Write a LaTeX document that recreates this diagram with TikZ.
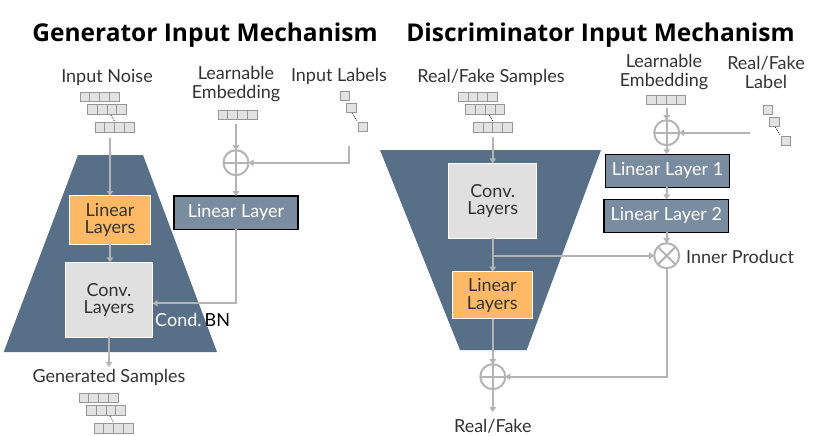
\documentclass[tikz,border=0pt]{standalone}
\usepackage{fontspec}
\setmainfont{Lato}
\newfontfamily\titlefont{Open Sans}
\usetikzlibrary{arrows.meta}
\definecolor{trap}{RGB}{87,111,135}
\definecolor{orangebox}{RGB}{253,185,99}
\definecolor{convgray}{RGB}{224,224,224}
\definecolor{slatebox}{RGB}{122,140,160}
\definecolor{linegray}{RGB}{180,180,180}
\definecolor{txt}{RGB}{51,51,51}
\definecolor{cellfill}{RGB}{226,226,226}
\definecolor{celldraw}{RGB}{150,150,150}
\tikzset{
  arr/.style={draw=linegray, line width=2pt, -{Triangle[length=5pt,width=6.5pt]}},
  ln/.style={draw=linegray, line width=2pt},
  lbl/.style={text=txt, font=\fontsize{18}{19}\selectfont, align=center, inner sep=0pt},
  ttl/.style={text=black, font=\titlefont\bfseries\fontsize{24.5}{28}\selectfont, inner sep=0pt},
  orangenode/.style={fill=orangebox, draw=white, line width=1pt, text=txt, align=center, inner sep=0pt, outer sep=0pt, font=\fontsize{18}{17.5}\selectfont},
  convnode/.style={fill=convgray, draw=white, line width=1pt, text=txt, align=center, inner sep=0pt, outer sep=0pt, font=\fontsize{18}{17.5}\selectfont},
  slatenode/.style={fill=slatebox, draw=black, line width=1.5pt, text=white, align=center, inner sep=0pt, outer sep=0pt, font=\fontsize{18}{18}\selectfont},
  opnode/.style={circle, draw=linegray, line width=2pt, minimum size=25pt, inner sep=0pt, outer sep=0pt},
  cell/.style={fill=cellfill, draw=celldraw, line width=0.7pt},
  dotsline/.style={draw=black, line width=0.7pt, dash pattern=on 0.8pt off 1.2pt},
  pics/vecrow/.style={code={
    \foreach \i in {0,1,2,3}{\path[cell] (\i*9.75,0) rectangle ++(9.75,9.5);}
  }},
  pics/vecstack/.style={code={
    \pic at (0,0) {vecrow};
    \pic at (7.5,12.5) {vecrow};
    \pic at (15,30.5) {vecrow};
    \path[dotsline] (31,23) -- (34.5,29.5);
  }},
  pics/labstack/.style={code={
    \path[cell] (0,0) rectangle ++(9.5,9);
    \path[cell] (6.5,12) rectangle ++(9.5,9);
    \path[cell] (18,31) rectangle ++(9.5,9);
    \path[dotsline] (12,22) -- (17,30);
  }},
}
\begin{document}
\begin{tikzpicture}[x=1pt,y=-1pt]
\useasboundingbox (0,0) rectangle (830,436);

% titles
\node[ttl] (t1) at (205,35) {Generator Input Mechanism};
\node[ttl] (t2) at (600.5,35) {Discriminator Input Mechanism};

% ===== Generator =====
\fill[trap] (78,155) -- (143,155) -- (217,352) -- (3.7,352) -- cycle;

\node[lbl] (noiseL) at (107,77) {Input Noise};
\pic at (80,92) {vecstack};
\coordinate (noiseOut) at (110,138);

\node[orangenode, minimum width=81.4pt, minimum height=48.3pt] (gLin) at (110,219.9) {Linear\\Layers};
\node[convnode, minimum width=87.4pt, minimum height=75pt] (gConv) at (109,299.8) {Conv.\\Layers};

\draw[arr] (noiseOut) -- (gLin.north);
\draw[arr] (gLin.south) -- (gConv.north -| gLin.south);

\coordinate (gOut) at (109,367);
\draw[arr] (gConv.south) -- (gOut);
\node[lbl] (genL) at (109,377) {Generated Samples};
\pic at (79,393) {vecstack};

\node[lbl] (embL1) at (236,84) {Learnable\\Embedding};
\pic at (218,110) {vecrow};
\coordinate (embOut) at (236,124);
\node[opnode] (gPlus) at (236,162.7) {};
\draw[linegray, line width=2pt] (gPlus.north) -- (gPlus.south) (gPlus.west) -- (gPlus.east);
\draw[arr] (embOut) -- (gPlus.north);

\node[lbl] (labL) at (339,76) {Input Labels};
\pic at (340,91) {labstack};
\coordinate (labOut) at (349.3,146);
\draw[arr] (labOut) |- (gPlus.east);

\node[slatenode, minimum width=124pt, minimum height=33.3pt] (gLL) at (236,212.7) {Linear Layer};
\draw[arr] (gPlus.south) -- (gLL.north);
\draw[arr] (gLL.south) |- ([yshift=-3.5pt]gConv.east);
\node[anchor=west, inner sep=0pt, font=\fontsize{18}{18}\selectfont] (condbn) at (155,319.5) {\textcolor{white}{Cond.}\,\textcolor{black}{BN}};

% ===== Discriminator =====
\fill[trap] (380,150) -- (601,150) -- (526.7,350) -- (460,350) -- cycle;

\node[lbl] (rfL) at (491,77) {Real/Fake Samples};
\pic at (458.3,92) {vecstack};
\coordinate (rfOut) at (492.8,137);

\node[convnode, minimum width=87.7pt, minimum height=75pt] (dConv) at (492.8,200.8) {Conv.\\Layers};
\node[orangenode, minimum width=80pt, minimum height=47.3pt] (dLin) at (492.3,295.3) {Linear\\Layers};
\draw[arr] (rfOut) -- (dConv.north);
\draw[arr] (dConv.south) -- (dConv.south |- dLin.north);

\node[lbl] (embL2) at (664,72) {Learnable\\Embedding};
\pic at (646.7,95) {vecrow};
\coordinate (embOut2) at (666.7,108);
\node[opnode] (dPlus1) at (666.7,132.7) {};
\draw[linegray, line width=2pt] (dPlus1.north) -- (dPlus1.south) (dPlus1.west) -- (dPlus1.east);
\draw[arr] (embOut2) -- (dPlus1.north);

\node[lbl] (rflab) at (766,72) {Real/Fake\\Label};
\pic at (763.3,105) {labstack};
\coordinate (rflabOut) at (750,132.7);
\draw[arr] (rflabOut) -- (dPlus1.east);

\node[slatenode, minimum width=123.6pt, minimum height=33pt] (LL1) at (667.5,170.8) {Linear Layer 1};
\node[slatenode, minimum width=124.7pt, minimum height=33pt] (LL2) at (666.3,215.8) {Linear Layer 2};
\draw[arr] (dPlus1.south) -- (dPlus1.south |- LL1.north);
\draw[arr] (dPlus1.south |- LL1.south) -- (dPlus1.south |- LL2.north);

\node[opnode] (dTimes) at (666.7,255.7) {};
\draw[linegray, line width=2pt] (dTimes.north east) -- (dTimes.south west) (dTimes.north west) -- (dTimes.south east);
\draw[arr] (dPlus1.south |- LL2.south) -- (dTimes.north);
\node[lbl, anchor=west] (ipL) at (686,257) {Inner Product};

\coordinate (branch) at (492.8,255.7);
\draw[arr] (branch) -- (dTimes.west);

\node[opnode] (dPlus2) at (492.8,376.7) {};
\draw[linegray, line width=2pt] (dPlus2.north) -- (dPlus2.south) (dPlus2.west) -- (dPlus2.east);
\draw[arr] (dLin.south -| dPlus2) -- (dPlus2.north);
\draw[arr] (dTimes.south) |- (dPlus2.east);
\coordinate (dOut) at (492.8,412);
\draw[arr] (dPlus2.south) -- (dOut);
\node[lbl] (rfOutL) at (492.8,426) {Real/Fake};
\end{tikzpicture}
\end{document}
